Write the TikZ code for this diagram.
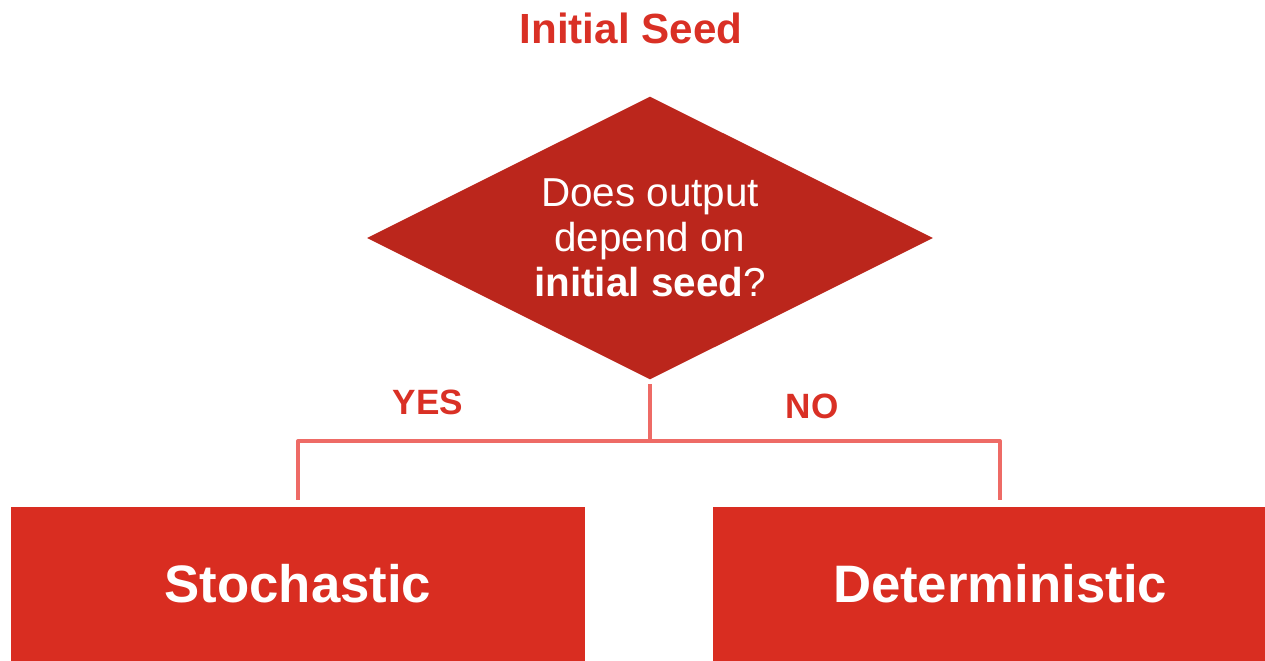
\documentclass[tikz,border=0pt]{standalone}
\usepackage{fontspec}
\setmainfont{Liberation Sans}
\usetikzlibrary{shapes.geometric, positioning}
\definecolor{seedred}{HTML}{D93025}
\definecolor{darkred}{HTML}{BB261C}
\definecolor{boxred}{HTML}{D92D21}
\definecolor{linkred}{HTML}{EE6B66}
\tikzset{
        question/.style={diamond, shape aspect=2, fill=darkred, text=white, inner sep=0pt,
                minimum width=11.32cm, minimum height=5.66cm, align=center,
                font=\fontsize{23}{25.5}\selectfont}, % the decision diamond
        outcome/.style={rectangle, fill=boxred, text=white, minimum width=11.48cm,
                minimum height=3.08cm, font=\fontsize{30}{36}\selectfont\bfseries}, % result boxes
        answer/.style={text=seedred, font=\fontsize{20}{24}\selectfont\bfseries}, % YES / NO
        link/.style={draw=linkred, line width=2.3pt, line join=round}, % connectors
        }

\begin{document}
\begin{tikzpicture}
        \clip (0,0) rectangle (25.3,-13.22);
        \node[text=seedred, font=\fontsize{24}{29}\selectfont\bfseries] (Seed) at (12.62,-0.57) {Initial Seed};
        \node[question] (Question) at (13,-4.76) {Does output\\depend on\\\textbf{initial seed}?};

        \node[outcome] (Stochastic) at (5.96,-11.68) {Stochastic};
        \node[outcome] (Deterministic) at (20,-11.68) {Deterministic};

        \node[answer] (Yes) at (8.56,-8.04) {YES};
        \node[answer] (No) at (16.24,-8.12) {NO};

        % branch lines stop just above the boxes
        \coordinate (split) at (13,-8.82);
        \coordinate (yesend) at ([yshift=0.14cm]Stochastic.north);
        \coordinate (noend) at ([yshift=0.14cm]Deterministic.north);
        \draw[link] ([yshift=-0.08cm]Question.south) -- (split) -| (yesend);
        \draw[link] (split) -| (noend);
\end{tikzpicture}
\end{document}
